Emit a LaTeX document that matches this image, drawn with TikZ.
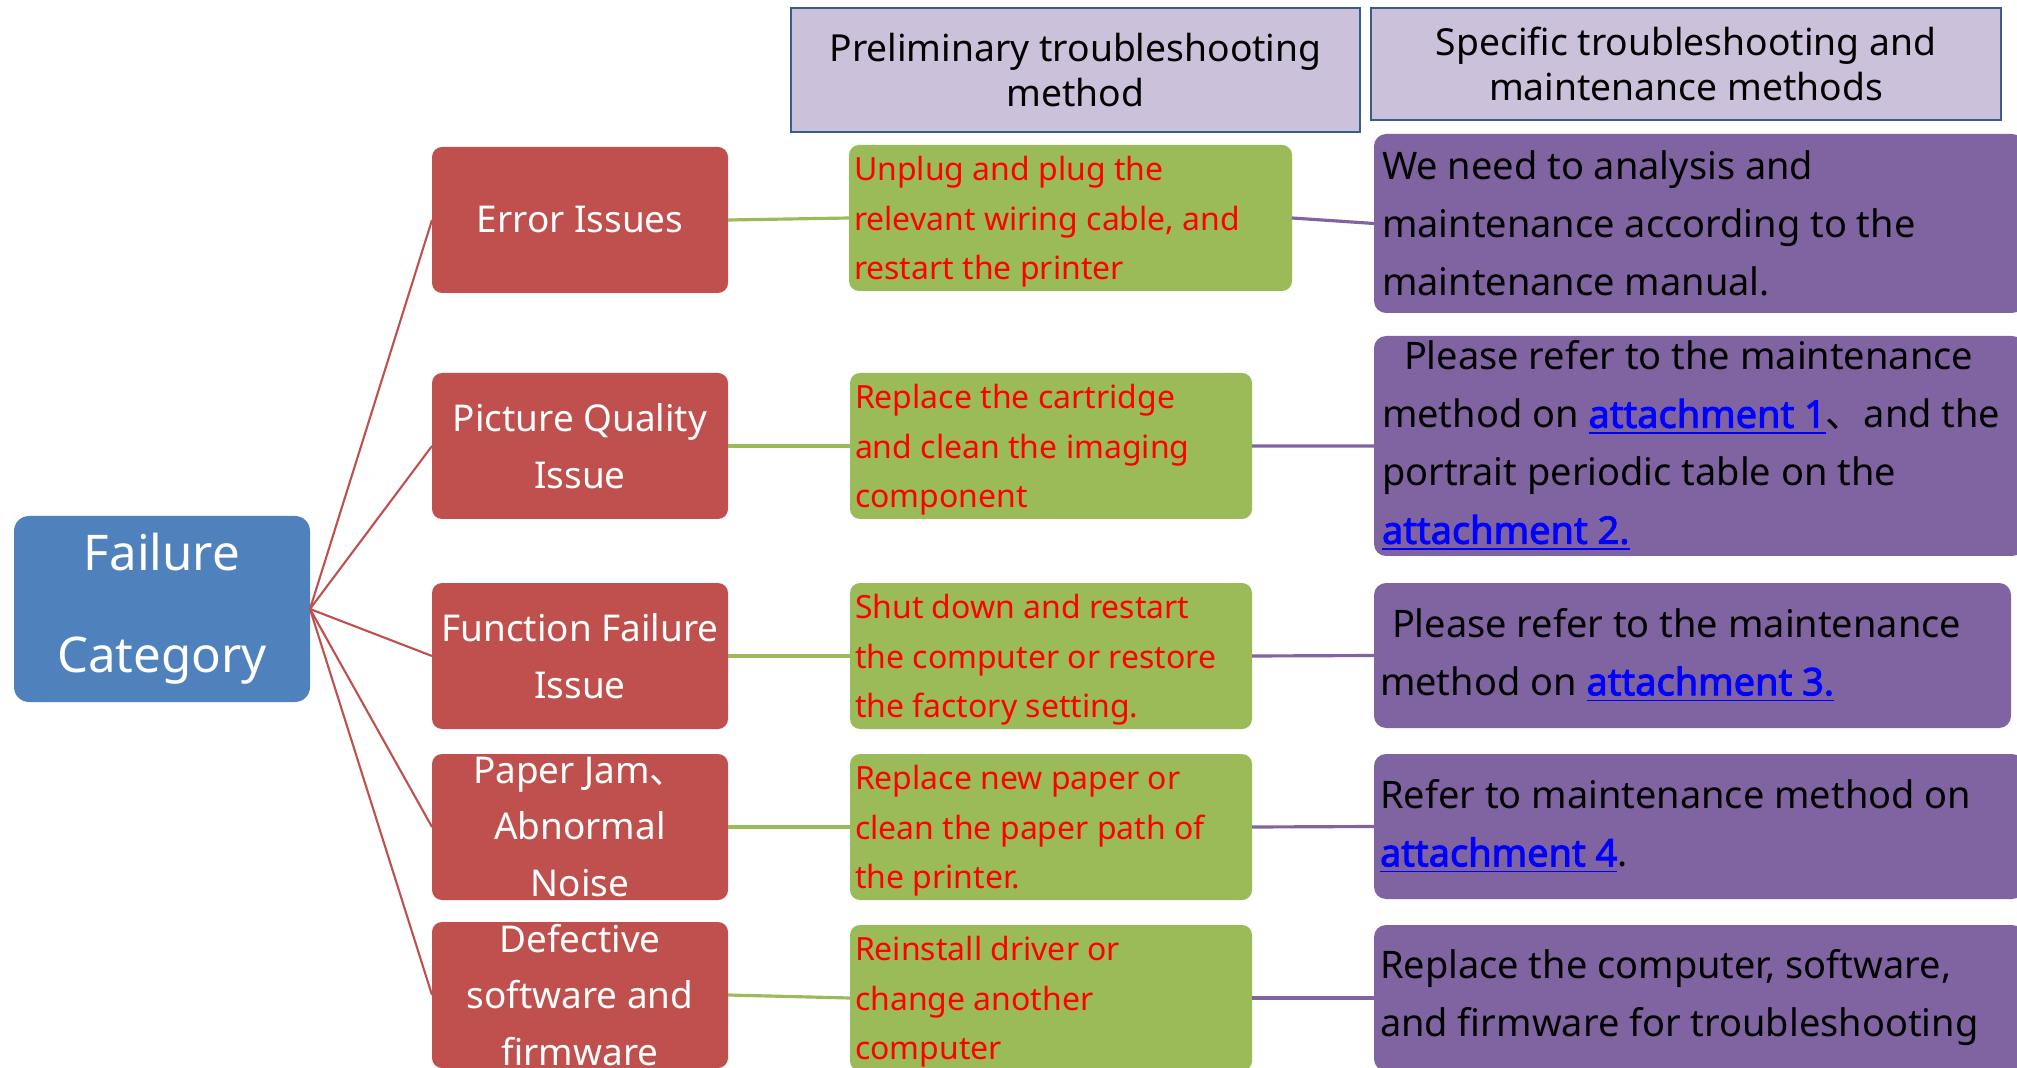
\documentclass[tikz,border=0pt]{standalone}
\usepackage{fontspec}
\setmainfont{Noto Sans}[BoldFont={Noto Sans},BoldFeatures={FakeBold=2.5}]
\newfontfamily\cjk{Noto Sans CJK SC}
\definecolor{catblue}{HTML}{4F81BD}
\definecolor{issuered}{HTML}{C0504D}
\definecolor{firstgreen}{HTML}{9BBB59}
\definecolor{fixpurple}{HTML}{8064A2}
\definecolor{headlilac}{HTML}{CCC1DA}
\definecolor{headframe}{HTML}{385D8A}
\definecolor{linkblue}{HTML}{0000FF}
\definecolor{hintred}{HTML}{FF0000}
\newcommand{\attlink}[1]{{\color{linkblue}\underline{\textbf{#1}}}}
\newcommand{\dun}{{\cjk 、}}
\begin{document}
\begin{tikzpicture}[x=0.1mm,y=-0.1mm,
	every node/.style={outer sep=0pt},
	catbox/.style={fill=catblue,rounded corners=1.5mm,minimum width=29.6mm,minimum height=18.6mm,anchor=north west},
	issuebox/.style={fill=issuered,rounded corners=1mm,minimum width=29.6mm,minimum height=14.6mm,anchor=north west},
	firstbox/.style={fill=firstgreen,rounded corners=1mm,minimum height=14.6mm,anchor=north west},
	fixbox/.style={fill=fixpurple,rounded corners=1.2mm,minimum width=65mm,anchor=north west},
	headbox/.style={fill=headlilac,draw=headframe,line width=0.8pt,anchor=north west,align=center,font=\fontsize{10.6}{12.6}\selectfont},
	cattext/.style={text=white,align=center,font=\fontsize{14}{29}\selectfont},
	issuetext/.style={text=white,align=center,inner sep=0pt,font=\fontsize{10.5}{16.2}\selectfont},
	firsttext/.style={text=hintred,align=left,anchor=west,inner sep=0pt,font=\fontsize{9.1}{14.1}\selectfont},
	fixtext/.style={text=black,align=left,anchor=west,inner sep=0pt,font=\fontsize{10.8}{16.5}\selectfont},
	redline/.style={draw=issuered,line width=0.6pt},
	greenline/.style={draw=firstgreen,line width=0.9pt},
	purpleline/.style={draw=fixpurple,line width=0.9pt}]
	\useasboundingbox (0,0) rectangle (2017,1068);
	\clip (0,0) rectangle (2017,1068);
	% column heads
	\node[headbox,minimum width=56.9mm,minimum height=12.4mm] (hpre) at (791,8) {Preliminary troubleshooting\\method};
	\node[headbox,minimum width=63mm,minimum height=11.2mm] (hspec) at (1371,8) {Specific troubleshooting and\\maintenance methods};
	% failure category
	\node[catbox] (fc) at (14,516) {};
	\node[cattext] (fcT) at (fc.center) {Failure\\Category};
	% issues
	\node[issuebox] (err) at (432,147) {};
	\node[issuebox] (pic) at (432,373) {};
	\node[issuebox] (fun) at (432,583) {};
	\node[issuebox] (jam) at (432,754) {};
	\node[issuebox] (soft) at (432,922) {};
	\node[issuetext] (errT) at (err.center) {Error Issues};
	\node[issuetext] (picT) at (pic.center) {Picture Quality\\Issue};
	\node[issuetext] (funT) at (fun.center) {Function Failure\\Issue};
	\node[issuetext] (jamT) at (jam.center) {Paper Jam\dun\\Abnormal\\Noise};
	\node[issuetext] (softT) at (soft.center) {Defective\\software and\\firmware};
	% preliminary method
	\node[firstbox,minimum width=44.3mm] (g1) at (849,145) {};
	\node[firstbox,minimum width=40.2mm] (g2) at (850,373) {};
	\node[firstbox,minimum width=40.2mm] (g3) at (850,583) {};
	\node[firstbox,minimum width=40.2mm] (g4) at (850,754) {};
	\node[firstbox,minimum width=40.2mm] (g5) at (850,925) {};
	\node[firsttext] (g1T) at ([xshift=0.5mm,yshift=-0.4mm]g1.west) {Unplug and plug the\\relevant wiring cable, and\\restart the printer};
	\node[firsttext] (g2T) at ([xshift=0.5mm,yshift=-0.4mm]g2.west) {Replace the cartridge\\and clean the imaging\\component};
	\node[firsttext] (g3T) at ([xshift=0.5mm,yshift=-0.4mm]g3.west) {Shut down and restart\\the computer or restore\\the factory setting.};
	\node[firsttext] (g4T) at ([xshift=0.5mm,yshift=-0.4mm]g4.west) {Replace new paper or\\clean the paper path of\\the printer.};
	\node[firsttext] (g5T) at ([xshift=0.5mm,yshift=-0.4mm]g5.west) {Reinstall driver or\\change another\\computer};
	% specific method
	\node[fixbox,minimum height=17.9mm] (p1) at (1374,134) {};
	\node[fixbox,minimum height=22mm] (p2) at (1374,336) {};
	\node[fixbox,minimum width=63.7mm,minimum height=14.5mm] (p3) at (1374,583) {};
	\node[fixbox,minimum height=14.5mm] (p4) at (1374,754) {};
	\node[fixbox,minimum height=14.6mm] (p5) at (1374,925) {};
	\node[fixtext] (p1T) at ([xshift=0.8mm]p1.west) {We need to analysis and\\maintenance according to the\\maintenance manual.};
	\node[fixtext] (p2T) at ([xshift=0.8mm]p2.west) {\hspace*{2.2mm}Please refer to the maintenance\\method on \attlink{attachment 1}\dun and the\\portrait periodic table on the\\\attlink{attachment 2.}};
	\node[fixtext] (p3T) at ([xshift=0.6mm]p3.west) {\hspace*{1.2mm}Please refer to the maintenance\\method on \attlink{attachment 3.}};
	\node[fixtext] (p4T) at ([xshift=0.6mm]p4.west) {Refer to maintenance method on\\\attlink{attachment 4}.};
	\node[fixtext] (p5T) at ([xshift=0.6mm]p5.west) {Replace the computer, software,\\and firmware for troubleshooting};
	% connectors
	\foreach \i in {err,pic,fun,jam,soft}
		\draw[redline] (fc.east) -- (\i.west);
	\draw[greenline] (err.east) -- (g1.west);
	\draw[greenline] (pic.east) -- (g2.west);
	\draw[greenline] (fun.east) -- (g3.west);
	\draw[greenline] (jam.east) -- (g4.west);
	\draw[greenline] (soft.east) -- (g5.west);
	\foreach \j in {1,...,5}
		\draw[purpleline] (g\j.east) -- (p\j.west);
\end{tikzpicture}
\end{document}
